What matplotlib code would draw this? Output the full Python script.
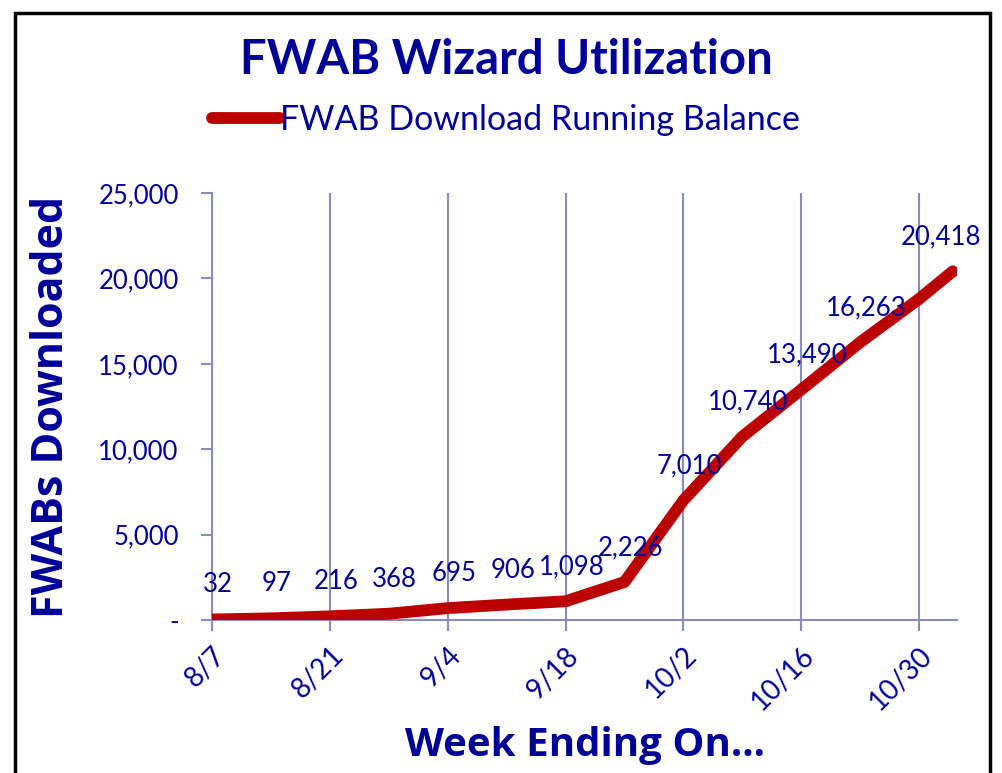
import matplotlib

matplotlib.use("Agg")

import datetime as dt

import matplotlib.dates as mdates
import matplotlib.pyplot as plt
from matplotlib.patches import Rectangle
from matplotlib.ticker import FuncFormatter

# week ending dates and running balance
week_ending = [
    "2009-08-07", "2009-08-14", "2009-08-21", "2009-08-28", "2009-09-04",
    "2009-09-11", "2009-09-18", "2009-09-25", "2009-10-02", "2009-10-09",
    "2009-10-16", "2009-10-23", "2009-10-30", "2009-11-03",
]
downloads = [32, 97, 216, 368, 695, 906, 1098, 2226, 7010, 10740,
             13490, 16263, 18800, 20418]
point_labels = ["32", "97", "216", "368", "695", "906", "1,098", "2,226",
                "7,010", "10,740", "13,490", "16,263", "", "20,418"]
y_ticks = [0, 5000, 10000, 15000, 20000, 25000]

BLUE = "#000099"
RED = "#bb0000"
GRID = "#8c8cbc"
FONT = ["Lato", "DejaVu Sans"]
BOLD_FONT = ["Open Sans", "DejaVu Sans"]

dates = [dt.datetime.strptime(d, "%Y-%m-%d") for d in week_ending]

fig = plt.figure(figsize=(10.02, 7.73), dpi=100)
ax = fig.add_axes([0.2116, 0.1979, 0.7435, 0.5524])

ax.plot(dates, downloads, color=RED, lw=8.5, solid_capstyle="round",
        solid_joinstyle="round", zorder=3, label="FWAB Download Running Balance")

for i, (d, v, lab) in enumerate(zip(dates, downloads, point_labels)):
    if not lab:
        continue
    dx = -12 if i == len(dates) - 1 else 6
    ax.annotate(lab, (mdates.date2num(d), v), xytext=(dx, 22),
                textcoords="offset pixels", ha="center", va="bottom",
                color=BLUE, fontsize=18.5, family=FONT, zorder=4)

ax.set_ylim(0, 25000)
ax.set_xlim(mdates.date2num(dates[0]), mdates.date2num(dates[-1]) + 0.5)
ax.set_yticks(y_ticks)
ax.yaxis.set_major_formatter(
    FuncFormatter(lambda v, p: "-" if v == 0 else f"{int(v):,}"))

xt = [mdates.date2num(dates[0]) + 14 * k for k in range(7)]
ax.set_xticks(xt)
ax.xaxis.set_major_formatter(
    FuncFormatter(lambda v, p: f"{mdates.num2date(v).month}/{mdates.num2date(v).day}"))

ax.grid(axis="x", color=GRID, lw=1.5)
for s in ["top", "right"]:
    ax.spines[s].set_visible(False)
for s in ["left", "bottom"]:
    ax.spines[s].set_color(GRID)
    ax.spines[s].set_linewidth(1.5)

ax.tick_params(axis="both", colors=GRID, length=8, width=1.5,
               labelcolor=BLUE, labelsize=18.5)
ax.tick_params(axis="y", pad=16)
ax.tick_params(axis="x", pad=8)
for t in ax.get_xticklabels():
    t.set_rotation(45)
    t.set_ha("right")
    t.set_rotation_mode("anchor")
    t.set_family(FONT)
    t.set_fontsize(20)
for t in ax.get_yticklabels():
    t.set_family(FONT)

ax.set_ylabel("FWABs Downloaded", color=BLUE, fontsize=31,
              fontweight="bold", family=BOLD_FONT, labelpad=18)
ax.set_xlabel("Week Ending On...", color=BLUE, fontsize=29,
              fontweight="bold", family=BOLD_FONT, labelpad=8)

fig.text(0.505, 0.922, "FWAB Wizard Utilization", ha="center", va="center",
         color=BLUE, fontsize=34, fontweight="bold", family=FONT)

leg = fig.legend(loc="center", bbox_to_anchor=(0.505, 0.845), frameon=False,
                 prop={"family": FONT, "size": 24.5}, handlelength=2.0,
                 handletextpad=0.0)
for t in leg.get_texts():
    t.set_color(BLUE)

fig.patches.append(Rectangle((15 / 1002, -0.05), 975 / 1002, 1 - 13 / 773 + 0.05,
                             transform=fig.transFigure, fill=False,
                             edgecolor="black", lw=2.5))

fig.savefig("out.png", dpi=100)
